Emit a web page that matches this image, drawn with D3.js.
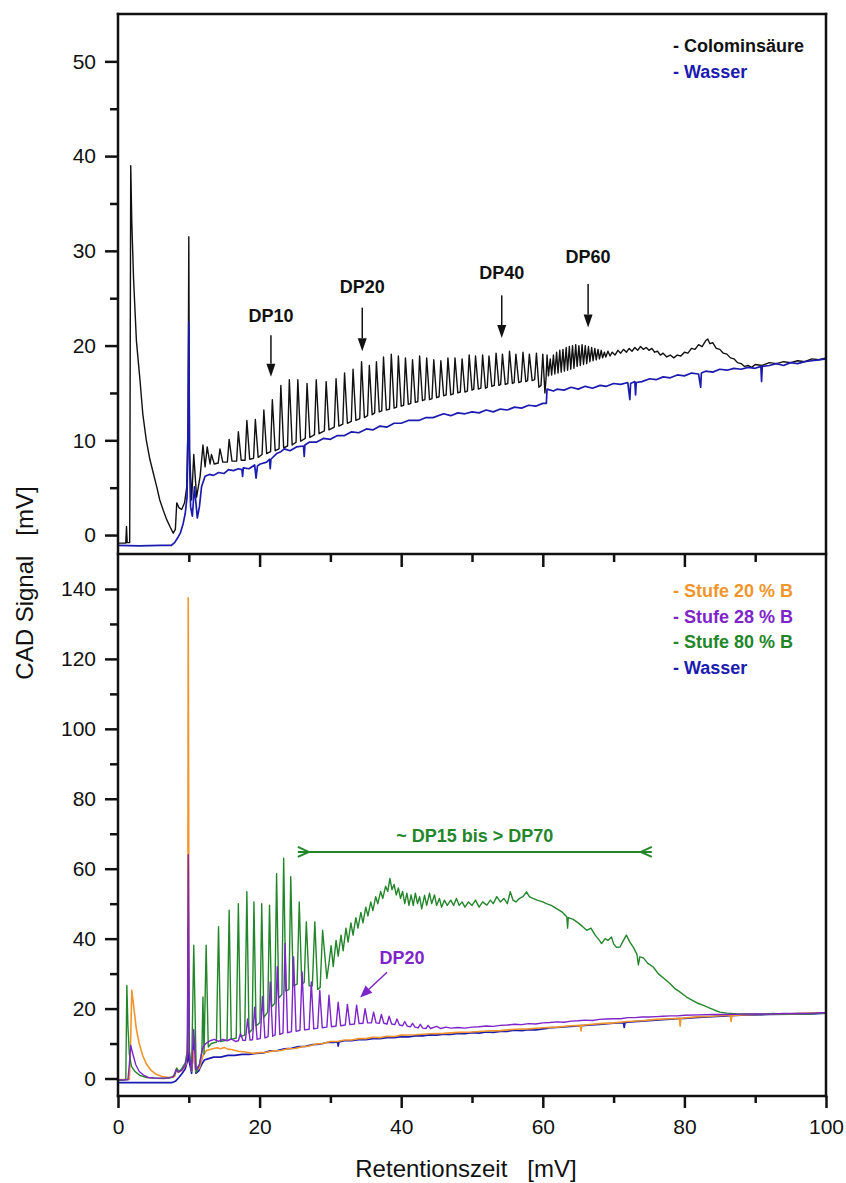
<!DOCTYPE html>
<html lang="de">
<head>
<meta charset="UTF-8" />
<title>CAD Signal - Colominsäure</title>
<script src="https://d3js.org/d3.v7.min.js"></script>
<style>
  body { margin: 0; background: #fff; }
  svg { display: block; font-family: "Liberation Sans", Arial, sans-serif; }
  .axis text { font-size: 21px; fill: #111; }
  .axis line { stroke: #111; stroke-width: 2.5; }
  .frame { stroke: #111; stroke-width: 2.5; stroke-linecap: square; }
  .trace { fill: none; stroke-width: 1.4; stroke-linejoin: round; }
  .bold { font-weight: bold; font-size: 18px; }
</style>
</head>
<body>
<script>
// --- Ticks ---
const xMajor = [0, 20, 40, 60, 80, 100];
const xMinor = [10, 30, 50, 70, 90];
const yTopMajor = [0, 10, 20, 30, 40, 50];
const yTopMinor = [5, 15, 25, 35, 45];
const yBotMajor = [0, 20, 40, 60, 80, 100, 120, 140];
const yBotMinor = [10, 30, 50, 70, 90, 110, 130];

// --- Legends ---
const legendTop = ['- Colominsäure', '- Wasser'];
const legendTopColors = ['#111111', '#1b1bb0'];
const legendBot = ['- Stufe 20 % B', '- Stufe 28 % B', '- Stufe 80 % B', '- Wasser'];
const legendBotColors = ['#f0952c', '#7d25c8', '#23862a', '#1b1bb0'];

// --- Annotations (data units) ---
const dpLabels = ['DP10', 'DP20', 'DP40', 'DP60'];
const dpX = [21.6, 34.5, 54.2, 66.4];
const dpTextY = [23.2, 26.2, 27.7, 29.4];
const dpArrowFrom = [21.1, 24.0, 25.3, 26.5];
const dpArrowTo = [16.7, 19.4, 20.8, 21.9];
const rangeLabel = '~ DP15 bis > DP70';
const rangeX = [25.4, 75.4];
const rangeY = 64.8;
const rangeTextY = 69.6;
const dp20Label = 'DP20';
const dp20Text = [40.1, 34.7];
const dp20Arrow = [[38.0, 30.4], [34.2, 23.2]];

// --- Top panel: Colominsäure (black) and Wasser (blue) ---
const colominsaeure = [
  [0,-0.85],[1.1,-0.85],[1.2,0.9],[1.3,-0.8],[1.65,-0.8],[1.8,39.0],[1.95,33],[2.2,27],[2.6,20.5],[3.1,16.4],
  [3.5,12.8],[4.0,10.0],[4.5,8.0],[5.0,6.5],[5.5,5.0],[5.9,3.7],[6.4,2.6],[6.9,1.6],[7.4,0.8],[7.8,0.2],
  [8.1,0.6],[8.3,3.4],[8.6,2.9],[9.0,2.7],[9.4,3.4],[9.7,5.0],[9.9,12],[10.0,31.5],[10.1,9],[10.4,3.7],
  [10.7,8.5],[11.1,4.0],[11.6,6.2],[12.0,9.5],[12.3,7.2],[12.6,9.3],[13.0,7.5],[13.2,8.5],[13.6,7.5],
  [14.15,7.6],[14.4,9.1],[14.8,7.7],[15.45,7.7],[15.7,10.1],[16.1,7.8],[16.75,7.8],[17.0,10.9],[17.4,7.9],
  [17.95,7.9],[18.2,12.1],[18.6,8.0],[19.15,8.1],[19.4,12.2],[19.8,8.2],[20.35,8.5],[20.6,13.2],[21.0,8.6],
  [21.55,8.8],[21.8,14.3],[22.2,8.9],[22.75,9.1],[23.0,15.8],[23.4,9.2],[23.95,9.4],[24.2,16.4],[24.6,9.5],
  [25.15,9.8],[25.4,16.4],[25.8,9.9],[26.45,10.2],[26.7,16.0],[27.1,10.3],[27.75,10.6],[28.0,16.4],[28.4,10.7],
  [29.15,11.0],[29.4,16.2],[29.8,11.1],[30.55,11.4],[30.8,16.5],[31.2,11.5],[31.75,11.7],[32.0,17.1],[32.4,11.8],
  [32.95,12.0],[33.2,17.5],[33.6,12.1],[34.15,12.3],[34.4,18.3],[34.8,12.4],[35.25,12.6],[35.5,17.9],[35.9,12.7],
  [36.25,12.9],[36.5,18.3],[36.9,13.0],[37.25,13.1],[37.5,18.8],[37.9,13.2],[38.35,13.3],[38.6,19.1],[39.0,13.4],
  [39.35,13.5],[39.6,18.9],[40.0,13.6],[40.35,13.7],[40.6,18.7],[41.0,13.8],[41.35,13.9],[41.6,18.5],[42.0,14.0],
  [42.35,14.1],[42.6,18.9],[43.0,14.2],[43.35,14.3],[43.6,18.7],[44.0,14.3],[44.35,14.4],[44.6,18.5],[45.0,14.5],
  [45.35,14.6],[45.6,18.4],[46.0,14.7],[46.35,14.8],[46.6,18.7],[47.0,14.8],[47.35,14.9],[47.6,18.7],[48.0,15.0],
  [48.35,15.1],[48.6,18.6],[49.0,15.1],[49.35,15.2],[49.6,19.0],[50.0,15.3],[50.25,15.4],[50.5,18.9],[50.9,15.4],
  [51.25,15.5],[51.5,19.0],[51.9,15.5],[52.15,15.6],[52.4,18.9],[52.8,15.7],[53.15,15.8],[53.4,19.2],[53.8,15.8],
  [54.05,15.9],[54.3,19.1],[54.7,15.9],[55.05,16.0],[55.3,19.4],[55.7,16.0],[55.95,16.1],[56.2,19.1],[56.6,16.1],
  [56.95,16.2],[57.2,19.3],[57.6,16.2],[57.85,16.3],[58.1,19.1],[58.5,16.3],[58.85,16.4],[59.1,19.2],[59.45,15.6],
  [59.75,15.8],[60.0,19.1],[60.3,15.0],[60.45,16.4],[60.6,19.0],
  [60.8,16.8],[61.05,18.6],[61.25,16.9],[61.5,19.0],[61.7,17.0],[61.95,19.3],[62.15,17.1],[62.4,19.5],[62.6,17.2],[62.85,19.6],
  [63.05,17.3],[63.3,19.8],[63.5,17.4],[63.75,19.9],[63.95,17.5],[64.2,20.0],[64.4,17.6],[64.65,20.1],[64.85,17.8],[65.1,20.0],
  [65.3,17.9],[65.55,20.1],[65.75,18.0],[66.0,20.0],[66.2,18.1],[66.45,19.9],[66.65,18.3],[66.9,19.8],[67.1,18.4],[67.35,19.7],
  [67.55,18.5],[67.8,19.6],[68.0,18.6],[68.25,19.5],[68.45,18.7],[68.7,19.3],[68.9,18.8],[69.2,19.4],[69.5,18.9],[69.8,19.3],
  [70.2,19.0],[70.6,19.5],[71.0,19.2],[71.4,19.6],[71.8,19.3],[72.2,19.7],[72.6,19.4],[73.0,19.8],[73.4,19.5],[73.8,19.9],
  [74.2,19.6],[74.6,19.8],[75.0,19.5],[75.4,19.7],[75.8,19.3],[76.2,19.4],[76.6,19.0],[77.0,19.2],[77.5,18.8],[78.0,19.0],
  [78.5,18.7],[79.0,19.0],[79.5,18.9],[80.0,19.3],[80.5,19.2],[81.0,19.7],[81.5,19.6],[82.0,20.1],[82.5,19.9],[83.0,20.5],
  [83.3,20.7],[83.6,20.2],[84.0,20.3],[84.5,19.7],[85.0,19.6],[85.5,19.2],[86.0,19.1],[86.5,18.7],[87.0,18.6],[87.5,18.2],
  [88.0,18.1],[88.5,17.8],[89.0,17.9],[89.5,17.7],[90.0,18.0],[91.0,17.9],[92.0,18.2],[93.0,18.1],[94.0,18.3],[95.0,18.2],
  [96.0,18.4],[97.0,18.3],[98.0,18.6],[99.0,18.5],[100,18.7]
];

const wasserTop = [
  [0,-1.1],[3,-1.15],[6,-1.1],[7.5,-1.1],[8.0,-0.8],[8.5,-0.2],[8.8,0.2],[9.2,1.2],[9.5,2.3],[9.75,4.0],
  [9.9,12],[10.0,22.5],[10.1,8],[10.25,3.0],[10.5,2.0],[10.8,5.1],[11.2,1.8],[11.5,3.0],[11.8,5.1],[12.3,6.2],
  [12.9,6.4],[13.5,6.3],[14.2,6.6],[15.0,6.5],[15.6,6.9],[16.3,6.8],[17.0,7.0],[17.5,6.9],[17.6,6.2],[17.7,7.1],
  [18.5,7.0],[19.3,7.4],[19.5,6.0],[19.7,7.3],[20.1,7.5],[21.0,7.7],[21.4,8.0],[21.5,7.0],[21.6,8.0],[22.4,8.6],
  [23.0,8.8],[23.5,9.1],[24.3,8.9],[25.2,9.3],[26.2,9.4],[26.3,8.3],[26.4,9.5],[27.0,9.8],[28.0,9.8],[29.0,10.2],
  [30.0,10.1],[31.0,10.5],[32.0,10.5],[33.0,10.9],[34.0,10.8],[35.1,11.2],[36.0,11.1],[37.0,11.5],[38.0,11.4],[39.0,11.8],
  [40.0,11.8],[41.0,12.1],[42.5,12.1],[43.5,12.4],[44.5,12.4],[46.0,12.8],[47.0,12.6],[48.0,12.9],[49.0,12.8],[50.0,13.0],
  [51.0,12.9],[52.0,13.2],[53.0,13.0],[54.0,13.3],[55.0,13.2],[56.0,13.5],[57.0,13.4],[58.0,13.7],[59.0,13.6],[60.0,13.9],
  [60.5,13.9],[60.6,15.4],[61.5,15.2],[62.0,15.4],[63.0,15.3],[64.0,15.6],[65.0,15.4],[66.0,15.7],[67.0,15.5],[68.1,15.8],
  [69.0,15.7],[70.0,16.0],[71.0,15.9],[72.0,16.1],[72.3,14.3],[72.4,16.0],[73.0,16.2],[73.1,14.8],[73.2,16.1],[74.0,16.2],
  [75.1,16.5],[76.0,16.4],[77.0,16.7],[78.0,16.6],[79.0,16.9],[80.0,16.8],[81.0,17.1],[82.0,17.0],[82.3,15.6],[82.4,17.1],
  [83.0,17.3],[84.0,17.2],[85.0,17.5],[86.0,17.4],[87.0,17.6],[88.0,17.5],[89.0,17.7],[90.0,17.6],[90.8,17.8],[90.9,16.2],
  [91.0,17.8],[92.0,17.9],[93.0,18.1],[94.0,17.9],[95.0,18.2],[96.0,18.1],[97.0,18.3],[98.0,18.4],[99.0,18.5],[100,18.6]
];

// --- Bottom panel: Stufen and Wasser ---
const stufe20 = [
  [0,-0.3],[1.6,-0.3],[1.75,8],[1.95,25.2],[2.2,21],[2.6,14],[3.0,10],[3.5,6.5],[4.0,4.2],[4.6,2.5],
  [5.3,1.3],[6.2,0.6],[7.2,0.3],[8.0,0.6],[8.3,2.8],[8.6,1.8],[9.1,2.5],[9.6,4.0],[9.85,10],[9.92,137.5],
  [10.05,8],[10.4,2.2],[10.7,8.0],[11.0,2.0],[11.5,3.0],[12.0,6.5],[12.5,8.0],[13.0,8.3],[13.5,8.6],[14.0,8.8],
  [14.5,8.5],[15.0,8.9],[15.5,8.4],[16.0,8.3],[17.0,7.8],[18.0,7.6],[19.0,7.2],[20.0,7.4],[21.0,7.5],[22.0,7.9],
  [23.0,8.0],[24.0,8.5],[25.0,8.6],[26.0,9.1],[27.0,9.3],[28.0,9.9],[29.0,10.0],[30.0,10.6],[31.0,10.6],[32.0,11.0],
  [33.0,11.0],[34.0,11.4],[35.0,11.4],[36.0,11.8],[37.0,11.7],[38.0,12.1],[39.0,12.0],[40.0,12.4],[42.0,12.5],[44.0,12.8],
  [46.0,12.9],[48.0,13.2],[50.0,13.3],[52.0,13.6],[54.0,13.7],[56.0,14.1],[58.0,14.2],[60.0,14.5],[62.0,14.7],[64.0,15.1],
  [65.3,15.2],[65.4,13.6],[65.5,15.2],[66.0,15.3],[68.0,15.7],[70.0,15.9],[72.0,16.3],[74.0,16.5],[76.0,16.9],[78.0,17.1],
  [79.3,17.2],[79.4,15.0],[79.5,17.2],[80.0,17.3],[82.0,17.7],[84.0,17.8],[86.0,18.1],[86.5,18.0],[86.6,16.3],[86.7,18.0],
  [88.0,18.2],[90.0,18.3],[92.0,18.5],[95.0,18.5],[98.0,18.7],[100,18.8]
];

const stufe28 = [
  [0,-0.4],[1.4,-0.4],[1.6,4],[1.8,9.5],[2.1,7.0],[2.5,4.0],[3.0,2.0],[3.6,1.0],[4.3,0.3],[5.5,0.1],
  [7.0,0.1],[7.8,0.4],[8.2,2.5],[8.5,1.8],[9.0,2.4],[9.5,3.8],[9.8,7],[9.92,64],[10.1,6],[10.4,2.5],
  [10.7,14],[11.0,2.5],[11.5,4.0],[12.0,9.0],[12.4,10.0],[13.0,10.8],[13.6,11.2],[14.2,10.6],[14.8,11.2],[15.4,10.8],
  [16.0,11.3],[16.6,10.6],
  [17.0,10.8],[17.3,12.8],[17.65,10.9],[18.0,10.9],[18.3,17.0],[18.65,11.0],[19.0,11.1],[19.3,20.4],[19.65,11.2],
  [20.1,11.5],[20.4,23.5],[20.75,11.6],[21.2,12.0],[21.5,27.6],[21.85,12.1],[22.2,12.5],[22.5,32.0],[22.85,12.6],
  [23.3,13.0],[23.6,38.6],[23.95,13.1],[24.5,13.4],[24.8,34.8],[25.15,13.5],[25.7,13.8],[26.0,30.5],[26.35,13.9],
  [27.0,14.1],[27.3,27.6],[27.65,14.2],[28.2,14.4],[28.5,25.2],[28.85,14.5],[29.5,14.7],[29.8,23.8],[30.15,14.8],
  [30.8,15.0],[31.1,21.8],[31.45,15.1],[32.1,15.3],[32.4,21.2],[32.75,15.4],[33.4,15.6],[33.7,21.0],[34.05,15.7],
  [34.6,15.8],[34.9,20.0],[35.25,15.9],[35.8,15.9],[36.1,19.0],[36.45,15.9],[36.9,15.8],[37.2,18.3],[37.55,15.8],
  [38.0,15.6],[38.3,17.8],[38.65,15.6],[39.1,15.4],[39.4,17.0],[39.75,15.3],[40.2,15.1],[40.5,16.3],[40.85,15.0],
  [41.3,14.8],[41.6,15.8],[41.95,14.7],[42.4,14.5],[42.7,15.5],[43.05,14.4],[43.5,14.3],[43.8,15.2],[44.15,14.3],
  [45.0,14.9],[45.6,14.3],[46.3,14.7],[47.0,14.4],[48.0,14.6],[49.0,14.4],[50.0,14.7],[51.0,14.8],[52.0,15.0],[53.0,14.9],
  [54.0,15.2],[55.0,15.3],[56.0,15.5],[57.0,15.4],[58.0,15.7],[59.0,15.6],[60.0,15.9],[61.0,16.0],[62.0,16.2],[63.0,16.1],
  [64.0,16.4],[65.0,16.5],[66.0,16.7],[67.0,16.6],[68.0,16.9],[69.0,17.0],[70.0,17.1],[71.0,17.1],[72.0,17.4],[73.0,17.4],
  [74.0,17.6],[75.0,17.6],[76.0,17.7],[77.0,17.8],[78.0,17.9],[79.0,17.9],[80.0,18.1],[82.0,18.2],[84.0,18.3],[86.0,18.3],
  [88.0,18.4],[90.0,18.5],[92.0,18.4],[94.0,18.6],[96.0,18.6],[98.0,18.7],[100,18.8]
];

const stufe80 = [
  [0,-0.5],[0.6,-0.5],[1.1,-0.4],[1.25,26.6],[1.4,15],[1.6,7],[1.9,3.5],[2.4,2.0],[3.1,0.9],[4.0,0.3],
  [5.0,0.1],[6.5,0.0],[7.5,0.3],[8.0,1.0],[8.3,3.0],[8.6,2.0],[9.0,2.8],[9.5,4.5],[9.8,8],[9.9,43],
  [10.05,8],[10.4,2.3],[10.7,38.1],[11.05,1.8],[11.5,4],[11.85,8],[12.0,23.3],[12.15,7],[12.45,38.1],[12.75,9],
  [13.2,10.0],[13.9,10.4],[14.2,43.4],[14.5,10.6],[15.4,11.0],[15.7,48.1],[16.0,11.2],[16.7,11.6],[17.0,50.0],[17.3,12.0],
  [17.9,12.4],[18.2,53.4],[18.5,13.0],[18.95,14.0],[19.2,50.5],[19.5,15.0],[20.05,16.0],[20.3,50.0],[20.6,17.5],[21.15,19.0],
  [21.4,49.6],[21.7,20.5],[22.15,21.5],[22.4,58.6],[22.7,23.0],[23.15,24.0],[23.4,63.0],[23.7,25.0],[24.15,25.5],[24.4,57.7],
  [24.75,26.5],[25.3,27.0],[25.6,50.5],[25.95,27.0],[26.3,27.5],[26.6,44.8],[27.0,26.5],[27.45,26.5],[27.8,44.8],[28.2,25.5],
  [28.55,26],[28.9,42.4],[29.5,28.6],[29.8,33],[30.1,38],[30.4,32],[30.8,39.5],[31.1,35],[31.5,41],[31.8,36.5],
  [32.2,43],[32.5,39],[32.9,44.5],[33.2,41],[33.6,46],[33.9,43],[34.3,47.5],[34.6,44.5],[35.0,49],[35.3,46.5],
  [35.7,50.5],[36.0,48],[36.4,52],[36.7,50],[37.1,53.5],[37.4,51.5],[37.8,55],[38.1,53.5],[38.4,57.2],[38.7,54],
  [39.0,55.5],[39.3,52.5],[39.6,54.5],[39.9,51.5],[40.2,53.5],[40.5,50],[40.8,53],[41.1,49.5],[41.4,52.5],[41.7,49.5],
  [42.0,53],[42.3,50],[42.6,52],[42.9,48.5],[43.3,52.4],[43.6,49.5],[44.0,53],[44.3,50],[44.7,52.5],[45.0,49.5],
  [45.4,51.5],[45.7,49],[46.1,51],[46.5,49.5],[47.0,51],[47.4,49.5],[47.8,51.5],[48.2,49.5],[48.6,50.5],[49.0,49],
  [49.5,50.5],[50.0,49.5],[50.5,51],[51.0,49],[51.5,50.5],[52.1,49.6],[52.6,51],[53.0,50],[53.5,52],[54.0,50.5],
  [54.5,51.5],[55.0,50],[55.4,53.4],[55.8,51],[56.2,50.5],[56.7,51.5],[57.2,52],[57.7,53.4],[58.1,52],[58.6,51.5],
  [59.2,51],[60.0,50.5],[60.5,50.0],[61.2,49.5],[62.0,48.5],[62.8,47.5],[63.4,46.2],[63.5,43.0],[63.6,46],[64.3,45.5],
  [65.0,44.5],[65.6,43.5],[66.2,42.4],[66.8,43],[67.4,41],[68.0,39.5],[68.3,38.6],[68.8,40],[69.2,39.5],[69.7,40.5],
  [70.0,38.5],[70.4,37.5],[70.9,37.6],[71.4,39.5],[71.8,41.0],[72.3,39],[72.8,37.5],[73.3,35.5],[73.5,32.5],[73.7,34.8],
  [74.2,34.5],[74.8,33],[75.6,31.9],[76.3,30],[77.0,28.8],[78.0,27.1],[78.6,25.8],[79.2,25.0],[80.3,23.3],[81.0,22.5],
  [81.8,21.6],[82.7,20.9],[83.5,20.2],[84.2,19.6],[85.0,19.0],[86.0,18.7],[87.5,18.5],[89.7,18.5],[91.0,18.3],[92.5,18.6],
  [94.0,18.4],[96.0,18.6],[98.0,18.5],[100,18.8]
];

const wasserBot = [
  [0,-1.2],[3,-1.2],[6,-1.2],[7.6,-1.2],[8.1,-0.8],[8.6,0.3],[9.0,1.3],[9.5,2.8],[9.8,5],[9.92,20],
  [10.05,5],[10.4,1.5],[10.7,10],[11.0,1.5],[11.4,2.2],[11.8,4.0],[12.2,5.3],[12.8,5.7],[13.5,6.1],[14.5,6.1],
  [15.5,6.6],[16.5,6.6],[17.5,6.9],[18.5,6.9],[19.5,7.2],[20.5,7.3],[21.5,7.9],[22.5,8.0],[23.5,8.5],[24.5,8.6],
  [25.5,9.1],[26.5,9.2],[27.5,9.7],[28.5,9.8],[29.5,10.3],[30.5,10.3],[31.0,10.5],[31.1,9.3],[31.2,10.5],[32.0,10.8],
  [33.0,10.8],[34.0,11.1],[35.0,11.1],[36.0,11.4],[37.0,11.4],[38.0,11.7],[39.0,11.7],[40.0,12.0],[41.0,11.9],[42.0,12.2],
  [43.0,12.2],[44.0,12.5],[45.0,12.4],[46.0,12.7],[47.0,12.6],[48.0,12.9],[49.0,12.8],[50.0,13.1],[51.0,13.0],[52.0,13.3],
  [53.0,13.2],[54.0,13.5],[55.0,13.5],[56.0,13.8],[57.0,13.7],[58.0,14.0],[59.0,13.9],[60.0,14.2],[60.6,14.3],[60.7,14.5],
  [62.0,14.6],[64.0,14.9],[66.0,15.2],[68.0,15.5],[70.0,15.8],[71.4,16.0],[71.5,14.6],[71.6,16.0],[72.0,16.1],[74.0,16.4],
  [76.0,16.7],[78.0,17.0],[80.0,17.2],[82.0,17.5],[84.0,17.7],[86.0,17.9],[88.0,18.1],[90.0,18.2],[92.0,18.3],[95.0,18.4],
  [98.0,18.5],[100,18.7]
];

// --- Layout ---
const width = 846, height = 1183;
const plotLeft = 118, plotRight = 826, plotTop = 14, plotMid = 554, plotBottom = 1096;

const svg = d3.select('body').append('svg').attr('width', width).attr('height', height);

const x = d3.scaleLinear().domain([0, 100]).range([plotLeft, plotRight]);
const yTop = d3.scaleLinear().domain([-2, 55]).range([plotMid, plotTop]);
const yBot = d3.scaleLinear().domain([-5, 150]).range([plotBottom, plotMid]);

// clip paths per panel
const defs = svg.append('defs');
defs.append('clipPath').attr('id', 'clipTop').append('rect')
  .attr('x', plotLeft).attr('y', plotTop).attr('width', plotRight - plotLeft).attr('height', plotMid - plotTop);
defs.append('clipPath').attr('id', 'clipBot').append('rect')
  .attr('x', plotLeft).attr('y', plotMid).attr('width', plotRight - plotLeft).attr('height', plotBottom - plotMid);

function drawTrace(data, yScale, color, clip, w) {
  const line = d3.line().x(d => x(d[0])).y(d => yScale(d[1]));
  svg.append('path')
    .datum(data)
    .attr('class', 'trace')
    .attr('clip-path', `url(#${clip})`)
    .attr('stroke', color)
    .style('stroke-width', w || null)
    .attr('d', line);
}

// top traces
drawTrace(colominsaeure, yTop, legendTopColors[0], 'clipTop');
drawTrace(wasserTop, yTop, legendTopColors[1], 'clipTop', 1.7);

// bottom traces
drawTrace(wasserBot, yBot, legendBotColors[3], 'clipBot', 1.7);
drawTrace(stufe20, yBot, legendBotColors[0], 'clipBot', 1.6);
drawTrace(stufe80, yBot, legendBotColors[2], 'clipBot');
drawTrace(stufe28, yBot, legendBotColors[1], 'clipBot');

// --- Axes ---
function addAxis(axis, tx, ty) {
  svg.append('g').attr('class', 'axis')
    .attr('transform', `translate(${tx},${ty})`)
    .call(axis)
    .call(g => g.select('.domain').remove());
}

addAxis(d3.axisLeft(yTop).tickValues(yTopMajor).tickSize(13).tickPadding(9), plotLeft, 0);
addAxis(d3.axisLeft(yTop).tickValues(yTopMinor).tickSize(8).tickFormat(''), plotLeft, 0);
addAxis(d3.axisLeft(yBot).tickValues(yBotMajor).tickSize(13).tickPadding(9), plotLeft, 0);
addAxis(d3.axisLeft(yBot).tickValues(yBotMinor).tickSize(8).tickFormat(''), plotLeft, 0);

addAxis(d3.axisBottom(x).tickValues(xMajor).tickSize(12).tickPadding(11), 0, plotBottom);
addAxis(d3.axisBottom(x).tickValues(xMinor).tickSize(7).tickFormat(''), 0, plotBottom);

// ticks on the shared border, pointing into the lower panel
addAxis(d3.axisBottom(x).tickValues(xMajor.slice(1, -1)).tickSize(13).tickFormat(''), 0, plotMid);
addAxis(d3.axisBottom(x).tickValues(xMinor).tickSize(8).tickFormat(''), 0, plotMid);

// frame
const frame = svg.append('g');
[[plotLeft, plotTop, plotRight, plotTop], [plotLeft, plotMid, plotRight, plotMid],
 [plotLeft, plotBottom, plotRight, plotBottom],
 [plotLeft, plotTop, plotLeft, plotBottom], [plotRight, plotTop, plotRight, plotBottom]].forEach(l => {
  frame.append('line').attr('class', 'frame')
    .attr('x1', l[0]).attr('y1', l[1]).attr('x2', l[2]).attr('y2', l[3]);
});

// --- Axis titles ---
svg.append('text')
  .attr('x', 466).attr('y', 1177)
  .attr('text-anchor', 'middle')
  .style('font-size', '24px').style('white-space', 'pre').attr('fill', '#111')
  .text('Retentionszeit   [mV]');

svg.append('text')
  .attr('transform', 'translate(33,583) rotate(-90)')
  .attr('text-anchor', 'middle')
  .style('font-size', '24px').style('white-space', 'pre').attr('fill', '#111')
  .text('CAD Signal   [mV]');

// --- Legends ---
svg.selectAll('.legTop').data(legendTop).enter().append('text')
  .attr('class', 'bold legTop')
  .attr('x', 673).attr('y', (d, i) => 52 + i * 26)
  .attr('fill', (d, i) => legendTopColors[i])
  .text(d => d);

svg.selectAll('.legBot').data(legendBot).enter().append('text')
  .attr('class', 'bold legBot')
  .attr('x', 673).attr('y', (d, i) => 597 + i * 25.5)
  .attr('fill', (d, i) => legendBotColors[i])
  .text(d => d);

// --- Arrows ---
function arrow(x1, y1, x2, y2, color, head, halfW) {
  const a = Math.atan2(y2 - y1, x2 - x1);
  const bx = x2 - head * Math.cos(a), by = y2 - head * Math.sin(a);
  svg.append('line')
    .attr('x1', x1).attr('y1', y1).attr('x2', bx).attr('y2', by)
    .attr('stroke', color).attr('stroke-width', 1.5);
  const px = halfW * Math.sin(a), py = halfW * Math.cos(a);
  svg.append('polygon')
    .attr('points', `${x2},${y2} ${bx + px},${by - py} ${bx - px},${by + py}`)
    .attr('fill', color);
}

dpLabels.forEach((lab, i) => {
  svg.append('text').attr('class', 'bold')
    .attr('x', x(dpX[i])).attr('y', yTop(dpTextY[i]))
    .attr('dy', '0.36em').attr('text-anchor', 'middle')
    .attr('fill', '#111').text(lab);
  arrow(x(dpX[i]), yTop(dpArrowFrom[i]), x(dpX[i]), yTop(dpArrowTo[i]), '#111', 13, 4.5);
});

// DP20 in lower panel
svg.append('text').attr('class', 'bold')
  .attr('x', x(dp20Text[0])).attr('y', yBot(dp20Text[1]))
  .attr('dy', '0.36em').attr('text-anchor', 'middle')
  .attr('fill', legendBotColors[1]).text(dp20Label);
arrow(x(dp20Arrow[0][0]), yBot(dp20Arrow[0][1]), x(dp20Arrow[1][0]), yBot(dp20Arrow[1][1]),
  legendBotColors[1], 12, 5);

// range marker ~DP15 bis > DP70
const rg = svg.append('g').attr('stroke', legendBotColors[2]).attr('stroke-width', 2).attr('fill', 'none');
const ry = yBot(rangeY), rx0 = x(rangeX[0]), rx1 = x(rangeX[1]);
rg.append('line').attr('x1', rx0).attr('y1', ry).attr('x2', rx1).attr('y2', ry);
rg.append('path').attr('d', `M${rx0},${ry - 5}L${rx0 + 11},${ry}L${rx0},${ry + 5}`);
rg.append('path').attr('d', `M${rx1},${ry - 5}L${rx1 - 11},${ry}L${rx1},${ry + 5}`);

svg.append('text').attr('class', 'bold')
  .attr('x', x((rangeX[0] + rangeX[1]) / 2)).attr('y', yBot(rangeTextY))
  .attr('dy', '0.36em').attr('text-anchor', 'middle')
  .attr('fill', legendBotColors[2]).text(rangeLabel);
</script>
</body>
</html>
